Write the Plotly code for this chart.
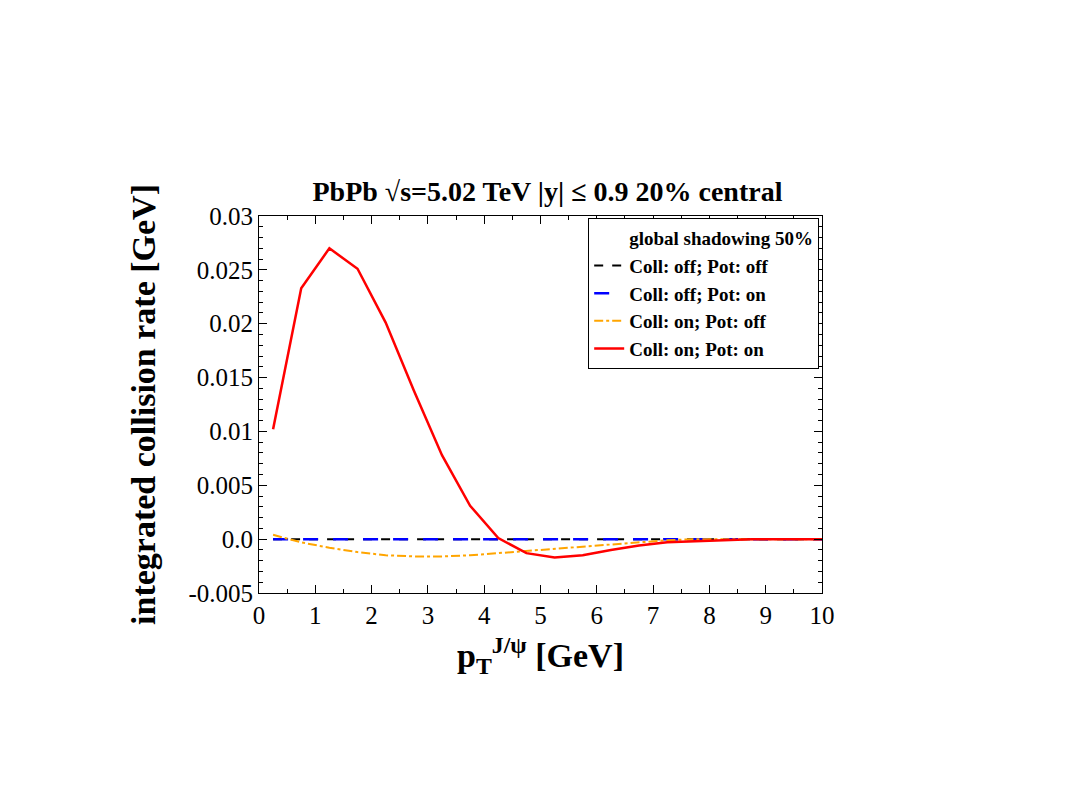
import plotly.graph_objects as go

pt = [0.25, 0.75, 1.25, 1.75, 2.25, 2.75, 3.25, 3.75, 4.25, 4.75,
      5.25, 5.75, 6.25, 6.75, 7.25, 7.75, 8.25, 8.75, 9.25, 9.75, 10.0]
coll_off_pot_off = [0.0]*21
coll_off_pot_on = [0.0]*21
coll_on_pot_off = [0.0004, -0.0003, -0.0008, -0.0012, -0.0015, -0.0016, -0.0016, -0.0015, -0.0013, -0.0011,
                   -0.0009, -0.0007, -0.0005, -0.0003, -0.0001, 0.0, 0.0, 0.0, 0.0, 0.0, 0.0]
coll_on_pot_on = [0.0102, 0.0233, 0.0270, 0.0251, 0.0201, 0.0138, 0.0078, 0.0031, 0.0001, -0.0013,
                  -0.0017, -0.0015, -0.0010, -0.0006, -0.0003, -0.0002, -0.0001, 0.0, 0.0, 0.0, 0.0]
ytickvals = [-0.005, 0, 0.005, 0.01, 0.015, 0.02, 0.025, 0.03]
yticktext = ["-0.005", "0.0", "0.005", "0.01", "0.015", "0.02", "0.025", "0.03"]

F = "Liberation Serif"
fig = go.Figure()
fig.add_trace(go.Scatter(x=[None], y=[None], mode="lines", line=dict(width=0), name="<b>global shadowing 50%</b>"))
fig.add_trace(go.Scatter(x=pt, y=coll_off_pot_off, mode="lines", line=dict(color="black", dash="dash", width=2), name="<b>Coll: off; Pot: off</b>"))
fig.add_trace(go.Scatter(x=pt, y=coll_off_pot_on, mode="lines", line=dict(color="blue", dash="longdash", width=2.5), name="<b>Coll: off; Pot: on</b>"))
fig.add_trace(go.Scatter(x=pt, y=coll_on_pot_off, mode="lines", line=dict(color="orange", dash="dashdot", width=2), name="<b>Coll: on; Pot: off</b>"))
fig.add_trace(go.Scatter(x=pt, y=coll_on_pot_on, mode="lines", line=dict(color="red", width=2.5), name="<b>Coll: on; Pot: on</b>"))

ax = dict(showgrid=False, zeroline=False, showline=True, linecolor="black", linewidth=1, mirror="allticks",
          ticks="inside", ticklen=8, tickcolor="black", tickfont=dict(family=F, size=25, color="black"))
fig.update_layout(
    width=1079, height=810, plot_bgcolor="white", paper_bgcolor="white",
    margin=dict(l=251, r=265, t=208, b=225),
    font=dict(family=F, color="black"),
    title=dict(text="<b>PbPb √s=5.02 TeV |y| ≤ 0.9 20% central</b>", x=0.5, xanchor="center", y=0.762, yanchor="bottom",
               font=dict(family=F, size=28)),
    xaxis=dict(range=[0, 10], dtick=1, title=dict(text="<b>p<sub>T</sub><sup>J/ψ</sup> [GeV]</b>", font=dict(family=F, size=34)), **ax),
    yaxis=dict(range=[-0.005, 0.03], tickvals=ytickvals, ticktext=yticktext,
               title=dict(text="<b>integrated collision rate [GeV]</b>", font=dict(family=F, size=34), standoff=22), **ax),
    showlegend=True,
    legend=dict(x=0.995, y=0.995, xanchor="right", yanchor="top", bgcolor="white", bordercolor="black", borderwidth=1,
                font=dict(family=F, size=19), tracegroupgap=0),
)
fig.update_yaxes(minor=dict(ticks="inside", ticklen=4, dtick=0.001, tickcolor="black"))
fig.update_xaxes(minor=dict(ticks="inside", ticklen=4, dtick=0.5, tickcolor="black"))
fig.write_html("out.html")
